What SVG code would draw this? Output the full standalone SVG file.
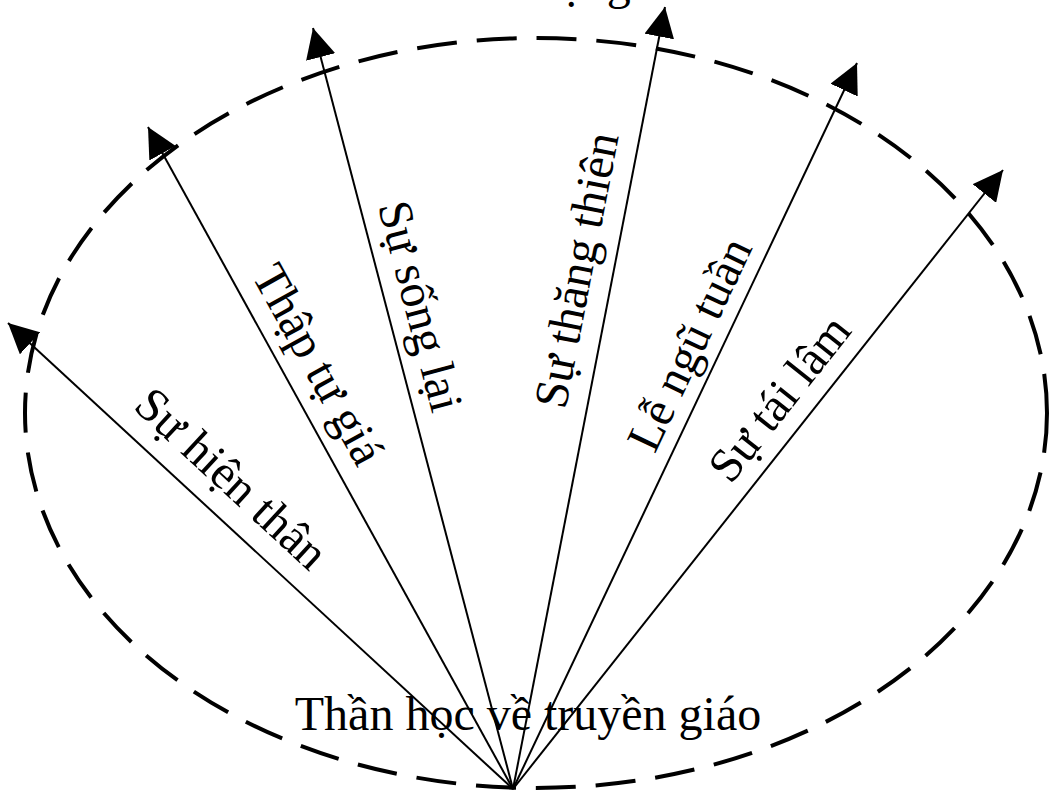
<svg xmlns="http://www.w3.org/2000/svg" width="1051" height="796" viewBox="0 0 1051 796">
<style>
.lbl{font-family:"Liberation Serif","Times New Roman",serif;font-size:48px;fill:#000}
.arr{stroke:#000;stroke-width:2;fill:none}
.ell{stroke:#000;stroke-width:4;fill:none;stroke-dasharray:40 20}
</style>
<defs>
<marker id="ah" viewBox="0 0 10 10" refX="10" refY="5" markerWidth="30" markerHeight="30" markerUnits="userSpaceOnUse" orient="auto">
<path d="M0,0 L10,5 L0,10 Z" fill="#000"/>
</marker>
</defs>
<rect width="1051" height="796" fill="#fff"/>
<g id="boundary">
<ellipse class="ell" cx="536" cy="413" rx="511" ry="375"/>
</g>
<g id="connectors">
<line class="arr" x1="513" y1="789" x2="8" y2="323" marker-end="url(#ah)"/>
<line class="arr" x1="513" y1="789" x2="148" y2="127" marker-end="url(#ah)"/>
<line class="arr" x1="513" y1="789" x2="313" y2="28" marker-end="url(#ah)"/>
<line class="arr" x1="513" y1="789" x2="665" y2="7" marker-end="url(#ah)"/>
<line class="arr" x1="513" y1="789" x2="857" y2="63" marker-end="url(#ah)"/>
<line class="arr" x1="513" y1="789" x2="1003" y2="170" marker-end="url(#ah)"/>
</g>
<g id="top-label"><text class="lbl" x="545" y="-1" text-anchor="middle">Sứ mạng</text></g>
<g id="n1"><text class="lbl" text-anchor="middle" dominant-baseline="central" transform="translate(232,478) rotate(42.7)">Sự hiện thân</text></g>
<g id="n2"><text class="lbl" text-anchor="middle" dominant-baseline="central" transform="translate(319,364) rotate(61.1)">Thập tự giá</text></g>
<g id="n3"><text class="lbl" text-anchor="middle" dominant-baseline="central" transform="translate(421,306) rotate(75.3)">Sự sống lại</text></g>
<g id="n4"><text class="lbl" text-anchor="middle" dominant-baseline="central" transform="translate(576,270) rotate(-79)">Sự thăng thiên</text></g>
<g id="n5"><text class="lbl" text-anchor="middle" dominant-baseline="central" transform="translate(689,344) rotate(-64.6)">Lễ ngũ tuần</text></g>
<g id="n6"><text class="lbl" text-anchor="middle" dominant-baseline="central" transform="translate(779,398) rotate(-51.6)">Sự tái lâm</text></g>
<g id="center"><text class="lbl" x="528" y="730" text-anchor="middle">Thần học về truyền giáo</text></g>
</svg>
